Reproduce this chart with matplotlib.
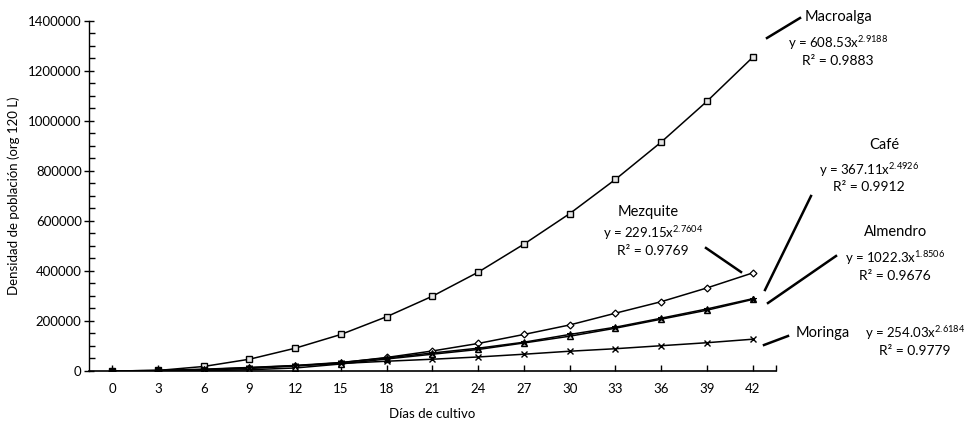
'''

  Densidad de poblacion por dias de cultivo

'''

import numpy as np
from matplotlib import pyplot as plt
from matplotlib.lines import Line2D
from matplotlib.ticker import MultipleLocator, FixedLocator, StrMethodFormatter

plt.rcParams['font.family'] = ['Lato', 'DejaVu Sans']
plt.rcParams['mathtext.fontset'] = 'custom'
plt.rcParams['mathtext.rm'] = 'Lato'

# Data

dias = [0, 3, 6, 9, 12, 15, 18, 21, 24, 27, 30, 33, 36, 39, 42]
macroalga = [0, 2000, 18000, 47000, 91000, 146000, 217000, 299000, 395000, 507000, 629000, 766000, 915000, 1078000, 1254000]
mezquite = [0, 1000, 4000, 10000, 20000, 33000, 54000, 80000, 110000, 146000, 184000, 231000, 277000, 332000, 392000]
cafe = [0, 500, 1000, 5000, 12000, 28000, 48000, 67000, 86000, 112000, 139000, 171000, 207000, 243000, 286000]
almendro = [0, 2000, 7000, 14000, 22000, 34000, 52000, 72000, 91000, 115000, 146000, 175000, 211000, 248000, 289000]
moringa = [0, 2000, 6000, 13000, 21000, 30000, 39000, 47000, 56000, 67000, 79000, 89000, 101000, 113000, 127000]

# Label texts

nombres = ['Macroalga', 'Café', 'Mezquite', 'Almendro', 'Moringa']
ecuaciones = [r'y = 608.53x$^{\mathregular{2.9188}}$', r'y = 367.11x$^{\mathregular{2.4926}}$',
              r'y = 229.15x$^{\mathregular{2.7604}}$', r'y = 1022.3x$^{\mathregular{1.8506}}$',
              r'y = 254.03x$^{\mathregular{2.6184}}$']
r2 = ['R² = 0.9883', 'R² = 0.9912', 'R² = 0.9769', 'R² = 0.9676', 'R² = 0.9779']

# Plot

fig = plt.figure(figsize=(9.64, 4.22), dpi=100)
ax = fig.add_axes([0.0926, 0.1209, 0.712, 0.830])

xi = np.arange(len(dias))
ax.plot(xi, macroalga, 'k-', lw=1.1, marker='s', ms=5, mfc='#e6e6e6', mec='k', mew=1)
ax.plot(xi, mezquite, 'k-', lw=1.1, marker='D', ms=3.5, mfc='white', mec='k', mew=0.9)
ax.plot(xi, cafe, 'k-', lw=1.1, marker='^', ms=5, mfc='#d0d0d0', mec='k', mew=1)
ax.plot(xi, almendro, 'k-', lw=1.1, marker='*', ms=5, mfc='k', mec='k', mew=0.8)
ax.plot(xi, moringa, 'k-', lw=1.1, marker='x', ms=4.5, mec='k', mew=1)

ax.set_xlim(-0.5, len(dias) - 0.5)
ax.set_ylim(0, 1400000)
ax.set_xticks(xi)
ax.set_xticklabels([str(d) for d in dias])
ax.xaxis.set_minor_locator(FixedLocator([len(dias) - 0.5]))
ax.yaxis.set_major_locator(MultipleLocator(200000))
ax.yaxis.set_minor_locator(MultipleLocator(50000))
ax.yaxis.set_major_formatter(StrMethodFormatter('{x:.0f}'))
ax.tick_params(axis='y', which='major', direction='inout', length=7, width=1, labelsize=9.5, pad=2)
ax.tick_params(axis='y', which='minor', direction='in', length=4, width=1)
ax.tick_params(axis='x', which='both', direction='in', length=4, width=1, labelsize=9.5, pad=9)
for s in ['top', 'right']:
    ax.spines[s].set_visible(False)
ax.spines['left'].set_linewidth(1)
ax.spines['bottom'].set_linewidth(1.2)

ax.set_xlabel('Días de cultivo', fontsize=9.5, labelpad=9)
ax.set_ylabel('Densidad de población (org 120 L)', fontsize=9.5, labelpad=6)

# Trend labels (figure pixel positions)
W, H = 964., 422.
pos_nombre = [(838, 17), (884, 145), (648, 212), (896, 232), (823, 333)]
pos_ec = [(838, 43), (869, 170), (653, 233), (895, 258), (915, 333)]
pos_r2 = [(838, 61), (869, 187), (653, 251), (895, 276), (915, 351)]
lineas = [((767, 38), (800, 18)), ((765, 290), (811, 196)), ((706, 248), (741, 272)),
          ((768, 303), (836, 256)), ((764, 345), (788, 336))]

for k in range(len(nombres)):
    fig.text(pos_nombre[k][0]/W, 1 - pos_nombre[k][1]/H, nombres[k], fontsize=10.5, ha='center', va='center')
    fig.text(pos_ec[k][0]/W, 1 - pos_ec[k][1]/H, ecuaciones[k], fontsize=9.5, ha='center', va='center')
    fig.text(pos_r2[k][0]/W, 1 - pos_r2[k][1]/H, r2[k], fontsize=10, ha='center', va='center')
    (x0, y0), (x1, y1) = lineas[k]
    fig.add_artist(Line2D([x0/W, x1/W], [1 - y0/H, 1 - y1/H], color='k', lw=1.8))

plt.savefig('out.png', dpi=100)
